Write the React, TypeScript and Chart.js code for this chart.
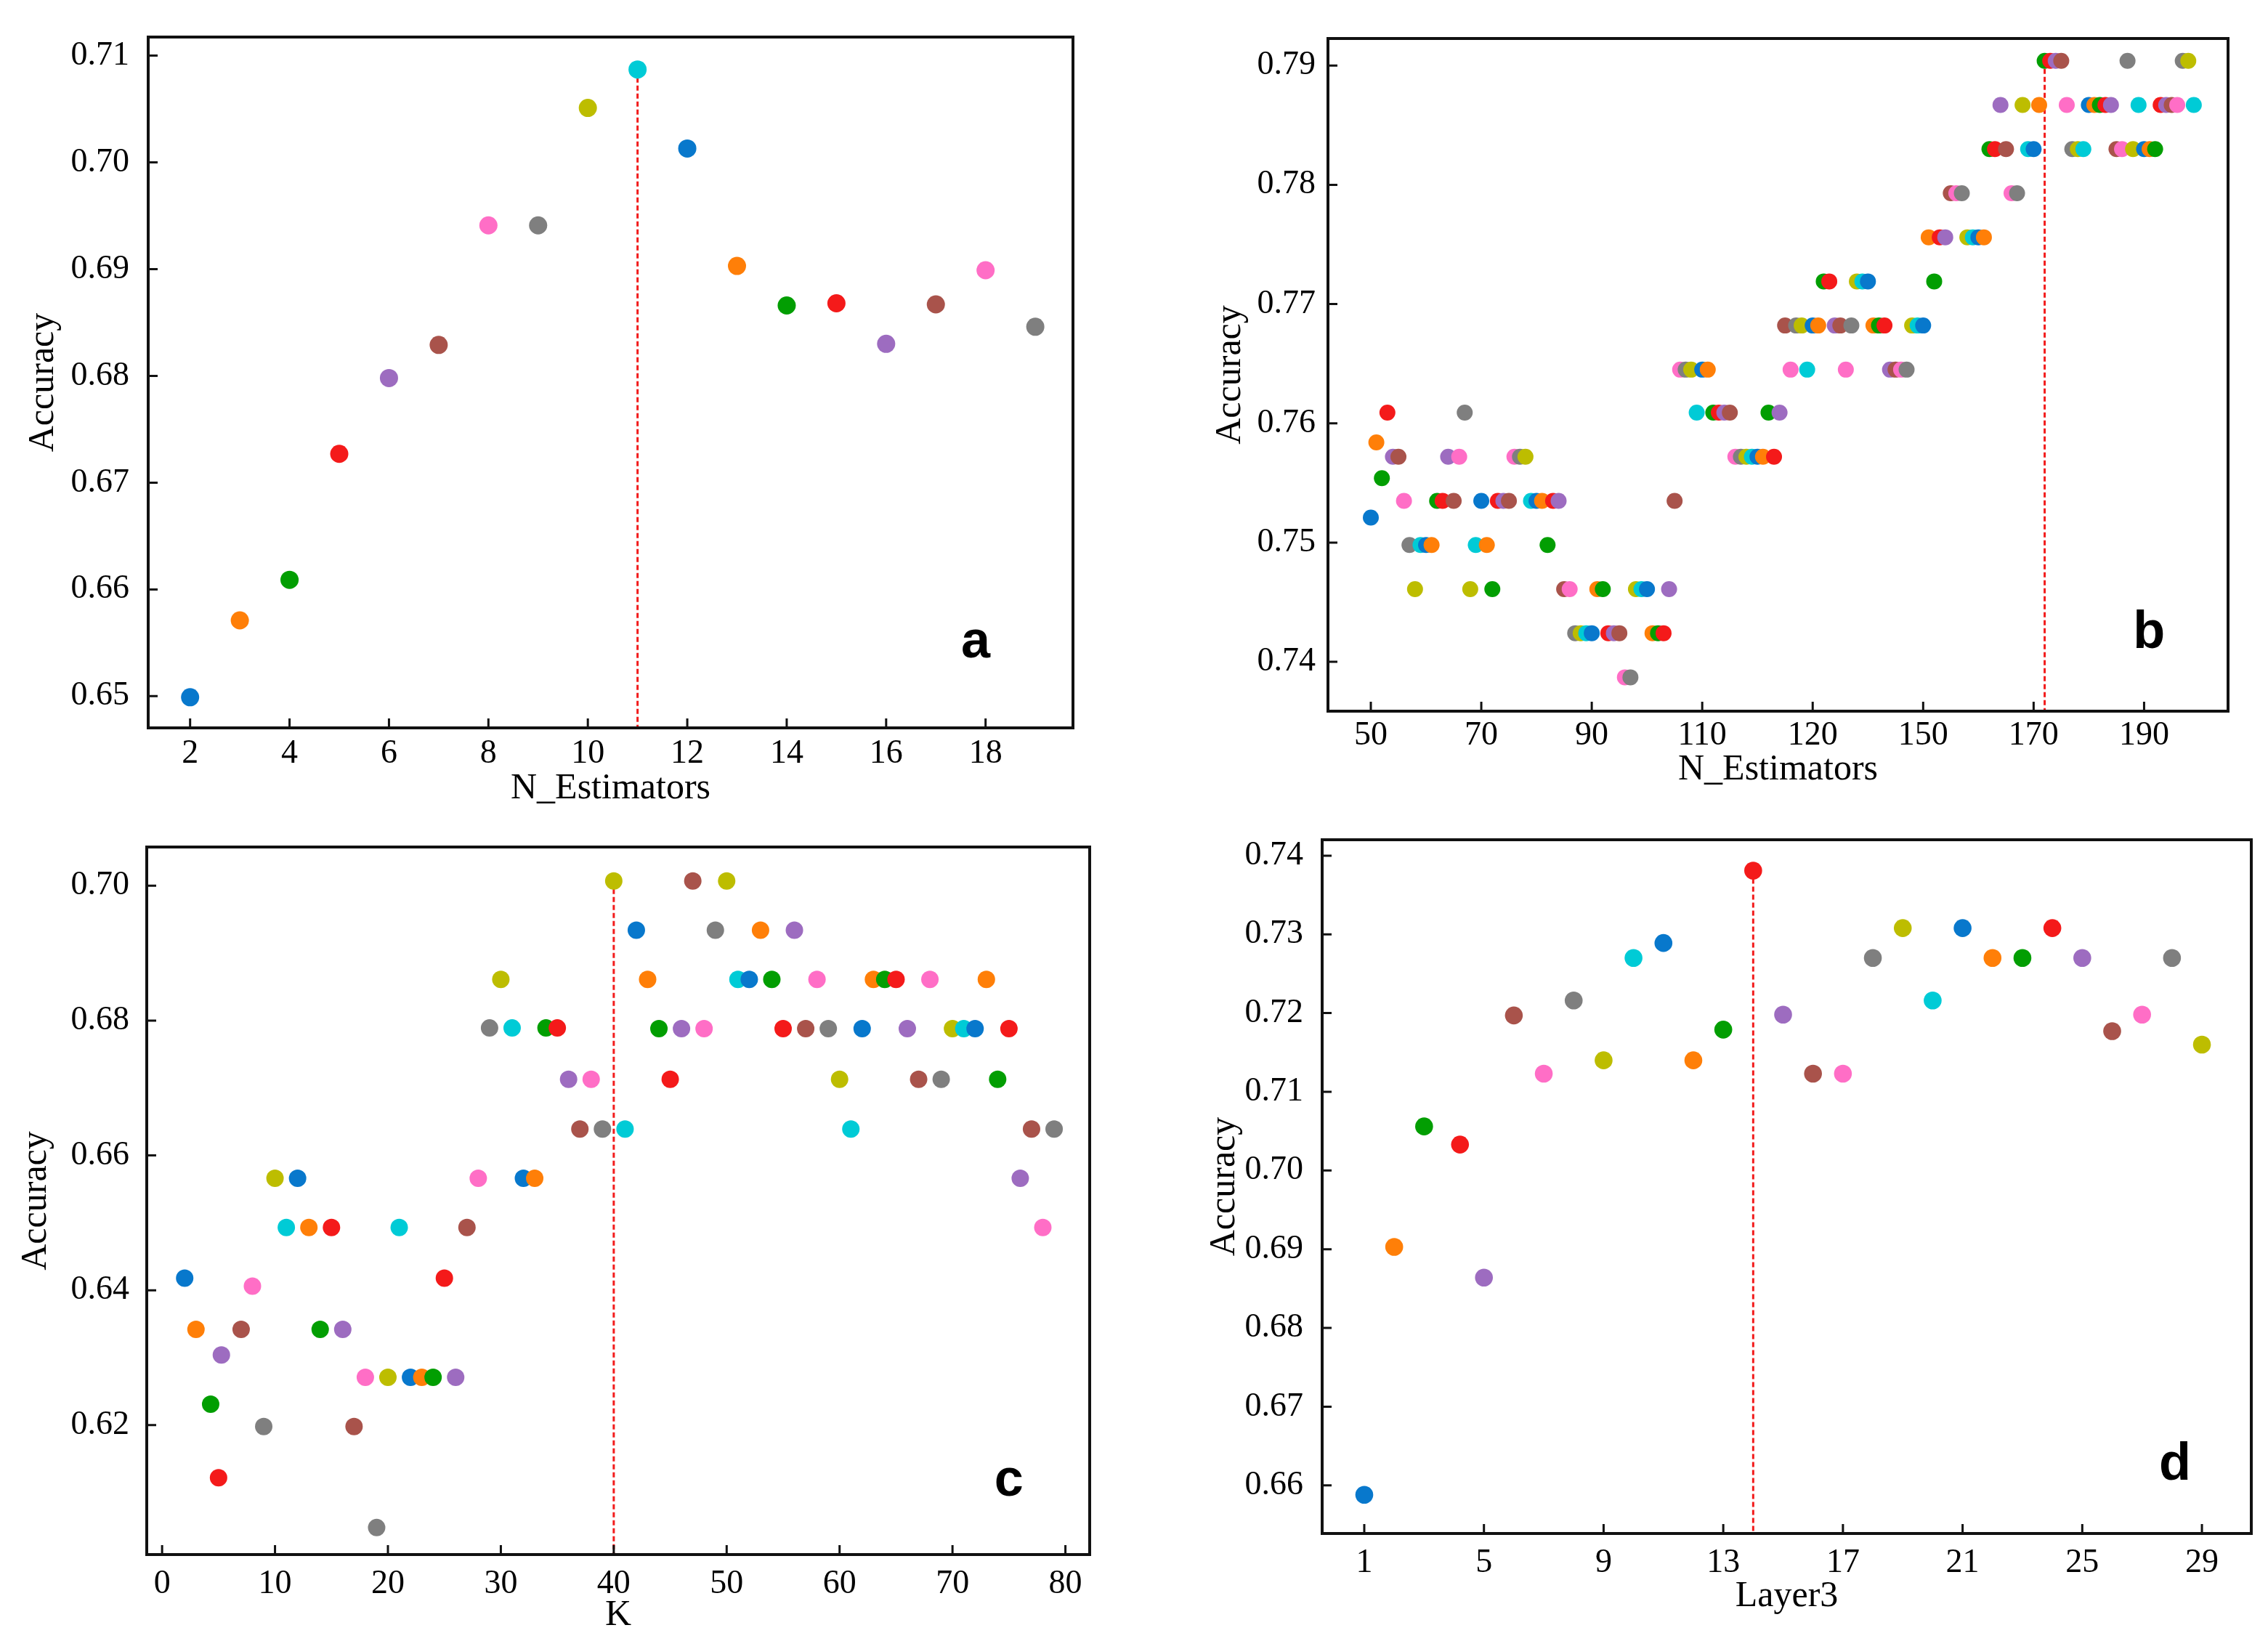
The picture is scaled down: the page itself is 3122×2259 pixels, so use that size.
import React, { useEffect, useRef } from 'react';
import { Chart, registerables } from 'chart.js';

Chart.register(...registerables);

// ---------------- colours ----------------
const PALETTE = [
  '#0878cc', // blue
  '#ff7f08', // orange
  '#029e02', // green
  '#f41a1a', // red
  '#9d6cc0', // purple
  '#a9534b', // brown
  '#ff6ec6', // pink
  '#7f7f7f', // gray
  '#bdbd00', // olive
  '#00cbd6', // cyan
];
const BEST_LINE = '#f21c1c';

// ---------------- panel a ----------------
const aX = [2, 3, 4, 5, 6, 7, 8, 9, 10, 11, 12, 13, 14, 15, 16, 17, 18, 19];
const aY = [
  0.6499, 0.6571, 0.6609, 0.6727, 0.6798, 0.6829, 0.6941, 0.6941, 0.7051,
  0.7087, 0.7013, 0.6903, 0.6866, 0.6868, 0.6830, 0.6867, 0.6899, 0.6846,
];
const aBest = 11;
const aXTicks = [2, 4, 6, 8, 10, 12, 14, 16, 18];
const aXTickLabels = ['2', '4', '6', '8', '10', '12', '14', '16', '18'];
const aYTicks = [0.65, 0.66, 0.67, 0.68, 0.69, 0.70, 0.71];

// ---------------- panel b ----------------
const bX = [
  50, 51, 52, 53, 54, 55, 56, 57, 58, 59,
  60, 61, 62, 63, 64, 65, 66, 67, 68, 69,
  70, 71, 72, 73, 74, 75, 76, 77, 78, 79,
  80, 81, 82, 83, 84, 85, 86, 87, 88, 89,
  90, 91, 92, 93, 94, 95, 96, 97, 98, 99,
  100, 101, 102, 103, 104, 105, 106, 107, 108, 109,
  110, 111, 112, 113, 114, 115, 116, 117, 118, 119,
  120, 121, 122, 123, 124, 125, 126, 127, 128, 129,
  130, 131, 132, 133, 134, 135, 136, 137, 138, 139,
  140, 141, 142, 143, 144, 145, 146, 147, 148, 149,
  150, 151, 152, 153, 154, 155, 156, 157, 158, 159,
  160, 161, 162, 163, 164, 165, 166, 167, 168, 169,
  170, 171, 172, 173, 174, 175, 176, 177, 178, 179,
  180, 181, 182, 183, 184, 185, 186, 187, 188, 189,
  190, 191, 192, 193, 194, 195, 196, 197, 198, 199,
];
const bY = [
  0.7521, 0.7584, 0.7554, 0.7609, 0.7572, 0.7572, 0.7535, 0.7498, 0.7461, 0.7498,
  0.7498, 0.7498, 0.7535, 0.7535, 0.7572, 0.7535, 0.7572, 0.7609, 0.7461, 0.7498,
  0.7535, 0.7498, 0.7461, 0.7535, 0.7535, 0.7535, 0.7572, 0.7572, 0.7572, 0.7535,
  0.7535, 0.7535, 0.7498, 0.7535, 0.7535, 0.7461, 0.7461, 0.7424, 0.7424, 0.7424,
  0.7424, 0.7461, 0.7461, 0.7424, 0.7424, 0.7424, 0.7387, 0.7387, 0.7461, 0.7461,
  0.7461, 0.7424, 0.7424, 0.7424, 0.7461, 0.7535, 0.7645, 0.7645, 0.7645, 0.7609,
  0.7645, 0.7645, 0.7609, 0.7609, 0.7609, 0.7609, 0.7572, 0.7572, 0.7572, 0.7572,
  0.7572, 0.7572, 0.7609, 0.7572, 0.7609, 0.7682, 0.7645, 0.7682, 0.7682, 0.7645,
  0.7682, 0.7682, 0.7719, 0.7719, 0.7682, 0.7682, 0.7645, 0.7682, 0.7719, 0.7719,
  0.7719, 0.7682, 0.7682, 0.7682, 0.7645, 0.7645, 0.7645, 0.7645, 0.7682, 0.7682,
  0.7682, 0.7756, 0.7719, 0.7756, 0.7756, 0.7793, 0.7793, 0.7793, 0.7756, 0.7756,
  0.7756, 0.7756, 0.7830, 0.7830, 0.7867, 0.7830, 0.7793, 0.7793, 0.7867, 0.7830,
  0.7830, 0.7867, 0.7904, 0.7904, 0.7904, 0.7904, 0.7867, 0.7830, 0.7830, 0.7830,
  0.7867, 0.7867, 0.7867, 0.7867, 0.7867, 0.7830, 0.7830, 0.7904, 0.7830, 0.7867,
  0.7830, 0.7830, 0.7830, 0.7867, 0.7867, 0.7867, 0.7867, 0.7904, 0.7904, 0.7867,
];
const bBest = 172;
const bXTicks = [50, 70, 90, 110, 130, 150, 170, 190];
const bXTickLabels = ['50', '70', '90', '110', '120', '150', '170', '190'];
const bYTicks = [0.74, 0.75, 0.76, 0.77, 0.78, 0.79];

// ---------------- panel c ----------------
const cX = [
  2, 3, 4.3, 5, 5.25, 7, 8, 9, 10, 11,
  12, 13, 14, 15, 16, 17, 18, 19, 20, 21,
  22, 23, 24, 25, 26, 27, 28, 29, 30, 31,
  32, 33, 34, 35, 36, 37, 38, 39, 40, 41,
  42, 43, 44, 45, 46, 47, 48, 49, 50, 51,
  52, 53, 54, 55, 56, 57, 58, 59, 60, 61,
  62, 63, 64, 65, 66, 67, 68, 69, 70, 71,
  72, 73, 74, 75, 76, 77, 78, 79,
];
const cY = [
  0.6418, 0.6342, 0.6231, 0.6122, 0.6304, 0.6342, 0.6406, 0.6198, 0.6566, 0.6493,
  0.6566, 0.6493, 0.6342, 0.6493, 0.6342, 0.6198, 0.6271, 0.6048, 0.6271, 0.6493,
  0.6271, 0.6271, 0.6271, 0.6418, 0.6271, 0.6493, 0.6566, 0.6789, 0.6861, 0.6789,
  0.6566, 0.6566, 0.6789, 0.6789, 0.6713, 0.6639, 0.6713, 0.6639, 0.7007, 0.6639,
  0.6934, 0.6861, 0.6788, 0.6713, 0.6788, 0.7007, 0.6788, 0.6934, 0.7007, 0.6861,
  0.6861, 0.6934, 0.6861, 0.6788, 0.6934, 0.6788, 0.6861, 0.6788, 0.6713, 0.6639,
  0.6788, 0.6861, 0.6861, 0.6861, 0.6788, 0.6713, 0.6861, 0.6713, 0.6788, 0.6788,
  0.6788, 0.6861, 0.6713, 0.6788, 0.6566, 0.6639, 0.6493, 0.6639,
];
const cBest = 40;
const cXTicks = [0, 10, 20, 30, 40, 50, 60, 70, 80];
const cXTickLabels = ['0', '10', '20', '30', '40', '50', '60', '70', '80'];
const cYTicks = [0.62, 0.64, 0.66, 0.68, 0.70];

// ---------------- panel d ----------------
const dX = [
  1, 2, 3, 4.2, 5, 6, 7, 8, 9, 10, 11, 12, 13, 14, 15,
  16, 17, 18, 19, 20, 21, 22, 23, 24, 25, 26, 27, 28, 29,
];
const dY = [
  0.6588, 0.6903, 0.7056, 0.7033, 0.6864, 0.7197, 0.7123, 0.7216, 0.7140, 0.7270,
  0.7289, 0.7140, 0.7179, 0.7381, 0.7198, 0.7123, 0.7123, 0.7270, 0.7308, 0.7216,
  0.7308, 0.7270, 0.7270, 0.7308, 0.7270, 0.7177, 0.7198, 0.7270, 0.7160,
];
const dBest = 14;
const dXTicks = [1, 5, 9, 13, 17, 21, 25, 29];
const dXTickLabels = ['1', '5', '9', '13', '17', '21', '25', '29'];
const dYTicks = [0.66, 0.67, 0.68, 0.69, 0.70, 0.71, 0.72, 0.73, 0.74];

// ---------------- styling / layout ----------------
const SERIF = '"Liberation Serif", "Times New Roman", Times, serif';
const TICK_FONT = { family: SERIF, size: 46 };
const TITLE_FONT = { family: SERIF, size: 50 };
const TICK_LEN = 13;

type PanelCfg = {
  left: number; top: number; w: number; h: number;
  padTop: number; padRight: number; yW: number; xH: number;
  xMin: number; xMax: number; yMin: number; yMax: number;
  xs: number[]; ys: number[]; best: number;
  xTicks: number[]; xTickLabels: string[]; yTicks: number[];
  xTickPad: number; yTickPad: number;
  xTitle: string; xTitlePadB: number; yTitlePadT: number;
  radius: number; label: string; lx: number; ly: number;
};

const PANELS: PanelCfg[] = [
  {
    left: 0, top: 0, w: 1560, h: 1130,
    padTop: 51, padRight: 83, yW: 204, xH: 128,
    xMin: 1.157, xMax: 19.758, yMin: 0.64703, yMax: 0.71174,
    xs: aX, ys: aY, best: aBest,
    xTicks: aXTicks, xTickLabels: aXTickLabels, yTicks: aYTicks,
    xTickPad: 8, yTickPad: 26,
    xTitle: 'N_Estimators', xTitlePadB: 14, yTitlePadT: 30,
    radius: 12.5, label: 'a', lx: 17.8, ly: 0.6536,
  },
  {
    left: 1560, top: 0, w: 1562, h: 1130,
    padTop: 53, padRight: 55, yW: 268, xH: 151,
    xMin: 42.24, xMax: 205.2, yMin: 0.73586, yMax: 0.79227,
    xs: bX, ys: bY, best: bBest,
    xTicks: bXTicks, xTickLabels: bXTickLabels, yTicks: bYTicks,
    xTickPad: 6, yTickPad: 17,
    xTitle: 'N_Estimators', xTitlePadB: 40, yTitlePadT: 104,
    radius: 11, label: 'b', lx: 190.9, ly: 0.74115,
  },
  {
    left: 0, top: 1130, w: 1560, h: 1129,
    padTop: 36, padRight: 60, yW: 202, xH: 119,
    xMin: -1.36, xMax: 82.15, yMin: 0.6008, yMax: 0.70574,
    xs: cX, ys: cY, best: cBest,
    xTicks: cXTicks, xTickLabels: cXTickLabels, yTicks: cYTicks,
    xTickPad: 13, yTickPad: 24,
    xTitle: 'K', xTitlePadB: 5, yTitlePadT: 20,
    radius: 12, label: 'c', lx: 75.0, ly: 0.60957,
  },
  {
    left: 1560, top: 1130, w: 1562, h: 1129,
    padTop: 26, padRight: 23, yW: 260, xH: 148,
    xMin: -0.408, xMax: 30.65, yMin: 0.65389, yMax: 0.74202,
    xs: dX, ys: dY, best: dBest,
    xTicks: dXTicks, xTickLabels: dXTickLabels, yTicks: dYTicks,
    xTickPad: 13, yTickPad: 26,
    xTitle: 'Layer3', xTitlePadB: 31, yTitlePadT: 96,
    radius: 12.3, label: 'd', lx: 28.1, ly: 0.6607,
  },
];

const decorPlugin = {
  id: 'decor',
  afterDatasetsDraw(chart: any, _args: any, opts: any) {
    const { ctx, chartArea } = chart;
    const { left, right, top, bottom } = chartArea;
    const xs = chart.scales.x;
    const ys = chart.scales.y;
    ctx.save();
    ctx.strokeStyle = '#111111';
    ctx.lineWidth = 3;
    ctx.beginPath();
    xs.ticks.forEach((t: any) => {
      const p = xs.getPixelForValue(t.value);
      ctx.moveTo(p, bottom);
      ctx.lineTo(p, bottom - TICK_LEN);
    });
    ys.ticks.forEach((t: any) => {
      const p = ys.getPixelForValue(t.value);
      ctx.moveTo(left, p);
      ctx.lineTo(left + TICK_LEN, p);
    });
    ctx.stroke();
    ctx.lineWidth = 4;
    ctx.strokeRect(left, top, right - left, bottom - top);
    ctx.fillStyle = '#000000';
    ctx.font = 'bold 72px "Liberation Sans", Arial, sans-serif';
    ctx.textAlign = 'center';
    ctx.textBaseline = 'alphabetic';
    ctx.fillText(opts.label, xs.getPixelForValue(opts.lx), ys.getPixelForValue(opts.ly));
    ctx.restore();
  },
};

function Panel({ cfg }: { cfg: PanelCfg }) {
  const ref = useRef<HTMLCanvasElement | null>(null);
  useEffect(() => {
    const canvas = ref.current;
    if (!canvas) return;
    const bestY = cfg.ys[cfg.xs.indexOf(cfg.best)];
    const chart = new Chart(canvas, {
      type: 'scatter',
      data: {
        datasets: [
          {
            type: 'scatter',
            data: cfg.xs.map((x, i) => ({ x, y: cfg.ys[i] })),
            pointRadius: cfg.radius,
            pointHoverRadius: cfg.radius,
            pointBackgroundColor: cfg.xs.map((_, i) => PALETTE[i % PALETTE.length]),
            pointBorderWidth: 0,
            pointBorderColor: 'rgba(0,0,0,0)',
            order: 0,
          } as any,
          {
            type: 'line',
            data: [
              { x: cfg.best, y: bestY },
              { x: cfg.best, y: cfg.yMin },
            ],
            borderColor: BEST_LINE,
            borderWidth: 3,
            borderDash: [7, 4],
            pointRadius: 0,
            fill: false,
            order: 1,
          } as any,
        ],
      },
      options: {
        responsive: false,
        animation: false,
        events: [],
        layout: { padding: { left: 0, top: cfg.padTop, right: cfg.padRight, bottom: 0 } },
        plugins: {
          legend: { display: false },
          tooltip: { enabled: false },
          decor: { label: cfg.label, lx: cfg.lx, ly: cfg.ly },
        } as any,
        scales: {
          x: {
            type: 'linear',
            min: cfg.xMin,
            max: cfg.xMax,
            afterBuildTicks: (s: any) => {
              s.ticks = cfg.xTicks.map((v) => ({ value: v }));
            },
            afterFit: (s: any) => {
              s.height = cfg.xH;
              s.paddingLeft = 0;
              s.paddingRight = 0;
              s.paddingTop = 0;
              s.paddingBottom = 0;
            },
            grid: { display: false, drawTicks: false },
            border: { display: false },
            ticks: {
              autoSkip: false,
              maxRotation: 0,
              minRotation: 0,
              padding: cfg.xTickPad,
              color: '#000000',
              font: TICK_FONT,
              callback: (_v: any, idx: number) => cfg.xTickLabels[idx],
            },
            title: {
              display: true,
              text: cfg.xTitle,
              color: '#000000',
              font: TITLE_FONT,
              padding: { top: 0, bottom: cfg.xTitlePadB },
            },
          },
          y: {
            type: 'linear',
            min: cfg.yMin,
            max: cfg.yMax,
            afterBuildTicks: (s: any) => {
              s.ticks = cfg.yTicks.map((v) => ({ value: v }));
            },
            afterFit: (s: any) => {
              s.width = cfg.yW;
              s.paddingLeft = 0;
              s.paddingRight = 0;
              s.paddingTop = 0;
              s.paddingBottom = 0;
            },
            grid: { display: false, drawTicks: false },
            border: { display: false },
            ticks: {
              autoSkip: false,
              padding: cfg.yTickPad,
              color: '#000000',
              font: TICK_FONT,
              callback: (v: any) => Number(v).toFixed(2),
            },
            title: {
              display: true,
              text: 'Accuracy',
              color: '#000000',
              font: TITLE_FONT,
              padding: { top: cfg.yTitlePadT, bottom: 0 },
            },
          },
        },
      } as any,
      plugins: [decorPlugin as any],
    });
    return () => chart.destroy();
  }, [cfg]);
  return (
    <canvas
      ref={ref}
      width={cfg.w}
      height={cfg.h}
      style={{ position: 'absolute', left: cfg.left, top: cfg.top, width: cfg.w, height: cfg.h }}
    />
  );
}

export default function App() {
  return (
    <div
      style={{
        position: 'absolute',
        left: 0,
        top: 0,
        width: 3122,
        height: 2259,
        overflow: 'hidden',
        background: '#ffffff',
      }}
    >
      {PANELS.map((p) => (
        <Panel key={p.label} cfg={p} />
      ))}
    </div>
  );
}
